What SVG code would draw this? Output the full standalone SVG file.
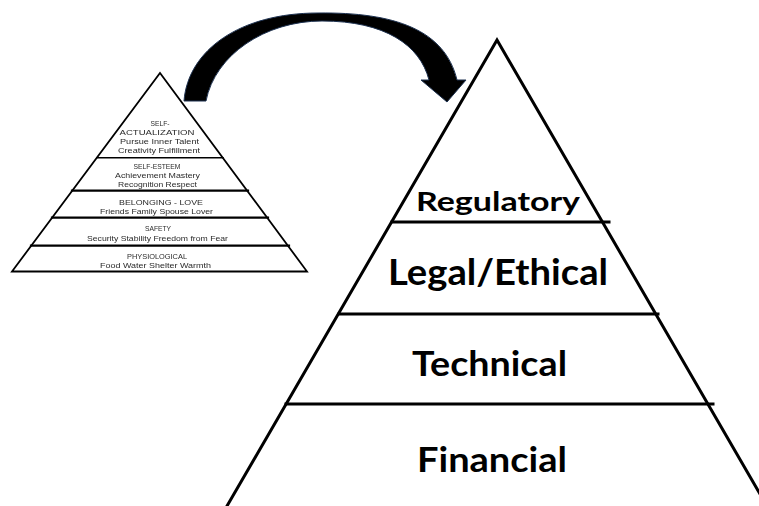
<svg xmlns="http://www.w3.org/2000/svg" width="759" height="506" viewBox="0 0 759 506">
  <style>
    .edge { fill: none; stroke: #000; stroke-linecap: square; stroke-linejoin: miter; }
    .small-edge { stroke-width: 1.8; }
    .big-edge { stroke-width: 3; }
    .tier { fill: #000; font-family: Lato, "Open Sans", "Liberation Sans", sans-serif; font-weight: 700; }
    .note { fill: #2b2b2b; font-family: "Liberation Sans", Arial, sans-serif; font-size: 7.5px; text-anchor: middle; }
  </style>
  <defs>
    <filter id="soft" x="-5%" y="-5%" width="110%" height="110%">
      <feGaussianBlur stdDeviation="0.3"/>
    </filter>
  </defs>

  <rect width="759" height="506" fill="#fff"/>

  <!-- Needs hierarchy (small pyramid) -->
  <g id="needs-pyramid" filter="url(#soft)">
    <path class="edge small-edge" d="M12,271.5 L160,73 L307,271.5 Z"/>
    <line class="edge" stroke-width="1.5" x1="97" y1="157.7" x2="223" y2="157.7"/>
    <line class="edge" stroke-width="2.2" x1="72" y1="190.7" x2="248" y2="190.7"/>
    <line class="edge" stroke-width="2.2" x1="52" y1="217.7" x2="268" y2="217.7"/>
    <line class="edge" stroke-width="2.2" x1="31" y1="245.7" x2="289" y2="245.7"/>

    <g id="self-actualization">
      <text class="note" x="160" y="126" textLength="19" lengthAdjust="spacingAndGlyphs">SELF-</text>
      <text class="note" x="157" y="135" textLength="75" lengthAdjust="spacingAndGlyphs">ACTUALIZATION</text>
      <text class="note" x="159.5" y="144" textLength="79" lengthAdjust="spacingAndGlyphs">Pursue Inner Talent</text>
      <text class="note" x="159" y="153" textLength="82" lengthAdjust="spacingAndGlyphs">Creativity  Fulfillment</text>
    </g>
    <g id="self-esteem">
      <text class="note" x="157" y="169" textLength="47" lengthAdjust="spacingAndGlyphs">SELF-ESTEEM</text>
      <text class="note" x="157.5" y="178" textLength="85" lengthAdjust="spacingAndGlyphs">Achievement Mastery</text>
      <text class="note" x="157.5" y="187" textLength="79" lengthAdjust="spacingAndGlyphs">Recognition  Respect</text>
    </g>
    <g id="belonging">
      <text class="note" x="161" y="205" textLength="84" lengthAdjust="spacingAndGlyphs">BELONGING - LOVE</text>
      <text class="note" x="156.5" y="214" textLength="113" lengthAdjust="spacingAndGlyphs">Friends  Family  Spouse  Lover</text>
    </g>
    <g id="safety">
      <text class="note" x="158" y="231" textLength="26" lengthAdjust="spacingAndGlyphs">SAFETY</text>
      <text class="note" x="157.5" y="241" textLength="141" lengthAdjust="spacingAndGlyphs">Security  Stability  Freedom from Fear</text>
    </g>
    <g id="physiological">
      <text class="note" x="157" y="259" textLength="60" lengthAdjust="spacingAndGlyphs">PHYSIOLOGICAL</text>
      <text class="note" x="155.5" y="267.5" textLength="111" lengthAdjust="spacingAndGlyphs">Food  Water  Shelter  Warmth</text>
    </g>
  </g>

  <!-- Curved block arrow between the two pyramids -->
  <g id="connectors">
    <path d="M184,101 C188,50 240,13 318,13 C395,12 445,30 457,80 L466,80 L447,102 L421,80 L429,80 C420,45 385,21 322,21 C265,21 215,55 206,101 Z"
          fill="#000" stroke="#1d3150" stroke-width="1" stroke-linejoin="miter"/>
  </g>

  <!-- Requirements pyramid (large) -->
  <g id="requirements-pyramid">
    <path class="edge big-edge" d="M227,506 L497,40 L767,506"/>
    <line class="edge big-edge" x1="392" y1="222" x2="609" y2="222"/>
    <line class="edge big-edge" x1="339" y1="314" x2="658" y2="314"/>
    <line class="edge big-edge" x1="286" y1="404" x2="713" y2="404"/>

    <g id="regulatory">
      <text class="tier" x="416" y="211" font-size="27" textLength="164" lengthAdjust="spacingAndGlyphs">Regulatory</text>
    </g>
    <g id="legal-ethical">
      <text class="tier" x="388" y="285" font-size="37" textLength="220" lengthAdjust="spacingAndGlyphs">Legal/Ethical</text>
    </g>
    <g id="technical">
      <text class="tier" x="412" y="376" font-size="34" textLength="155" lengthAdjust="spacingAndGlyphs">Technical</text>
    </g>
    <g id="financial">
      <text class="tier" x="417" y="472" font-size="35" textLength="150" lengthAdjust="spacingAndGlyphs">Financial</text>
    </g>
  </g>
</svg>
